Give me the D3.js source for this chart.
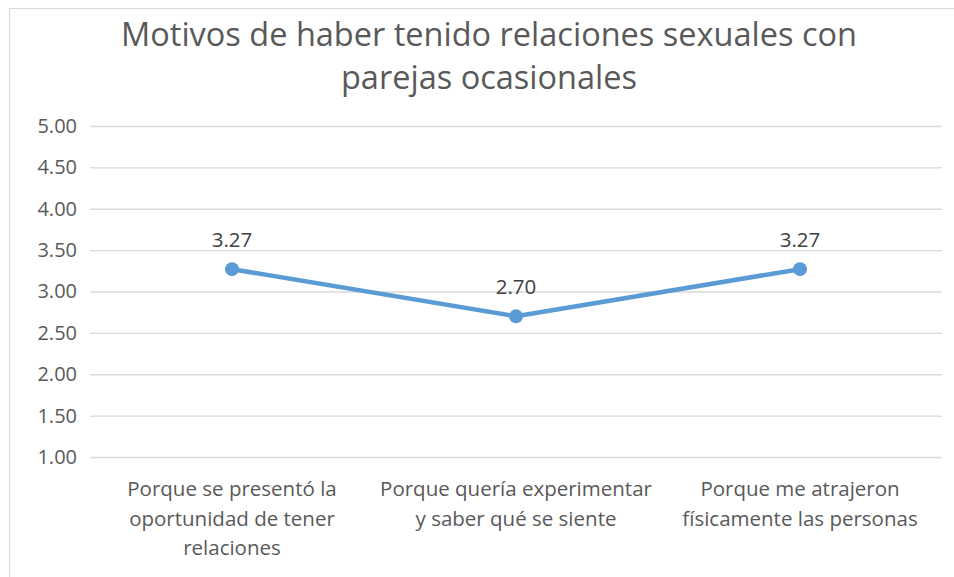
<!DOCTYPE html>
<html><head><meta charset="utf-8">
<script src="https://cdn.jsdelivr.net/npm/d3@7"></script>
<style>html,body{margin:0;padding:0;background:#fff;}svg{display:block;}</style>
</head><body>
<script>
const titleLines = ["Motivos de haber tenido relaciones sexuales con", "parejas ocasionales"];
const categories = [
  ["Porque se presentó la", "oportunidad de tener", "relaciones"],
  ["Porque quería experimentar", "y saber qué se siente"],
  ["Porque me atrajeron", "físicamente las personas"]
];
const values = [3.27, 2.70, 3.27];
const yTicks = [1.00, 1.50, 2.00, 2.50, 3.00, 3.50, 4.00, 4.50, 5.00];

const W = 954, H = 577;
const font = "'Open Sans', 'Noto Sans', sans-serif";
const svg = d3.select("body").append("svg").attr("width", W).attr("height", H);

svg.append("rect").attr("x", 9.5).attr("y", 8.5).attr("width", W + 10).attr("height", H + 10)
  .attr("fill", "#fff").attr("stroke", "#d9d9d9");

const x = d3.scaleBand().domain(d3.range(categories.length)).range([90, 942]);
const y = d3.scaleLinear().domain([1, 5]).range([457, 126]);

svg.append("g").selectAll("text").data(titleLines).join("text")
  .attr("x", 489).attr("y", (d, i) => 46 + i * 43)
  .attr("text-anchor", "middle").attr("font-family", font).attr("font-size", 32.5)
  .attr("fill", "#595959").text(d => d);

const yAxis = d3.axisLeft(y).tickValues(yTicks).tickFormat(d3.format(".2f")).tickSize(-852).tickPadding(13);
const gy = svg.append("g").attr("transform", "translate(90,0)").call(yAxis);
gy.select(".domain").remove();
gy.selectAll(".tick line").attr("stroke", "#d9d9d9").attr("stroke-width", 1.3);
gy.selectAll(".tick text").attr("font-family", font).attr("font-size", 20).attr("fill", "#595959");

const line = d3.line().x((d, i) => x(i) + x.bandwidth() / 2).y(d => y(d));
svg.append("path").datum(values).attr("d", line).attr("fill", "none")
  .attr("stroke", "#5B9BD5").attr("stroke-width", 4.5).attr("stroke-linejoin", "round");

svg.append("g").selectAll("circle").data(values).join("circle")
  .attr("cx", (d, i) => x(i) + x.bandwidth() / 2).attr("cy", d => y(d)).attr("r", 7)
  .attr("fill", "#5B9BD5");

svg.append("g").selectAll("text").data(values).join("text")
  .attr("x", (d, i) => x(i) + x.bandwidth() / 2).attr("y", d => y(d) - 22)
  .attr("text-anchor", "middle").attr("font-family", font).attr("font-size", 20.5)
  .attr("fill", "#404040").text(d => d.toFixed(2));

const cg = svg.append("g").selectAll("text").data(categories).join("text")
  .attr("text-anchor", "middle").attr("font-family", font).attr("font-size", 20.5).attr("fill", "#595959");
cg.each(function(lines, i) {
  d3.select(this).selectAll("tspan").data(lines).join("tspan")
    .attr("x", x(i) + x.bandwidth() / 2).attr("y", (d, j) => 496 + j * 29.5).text(d => d);
});
</script>
</body></html>
